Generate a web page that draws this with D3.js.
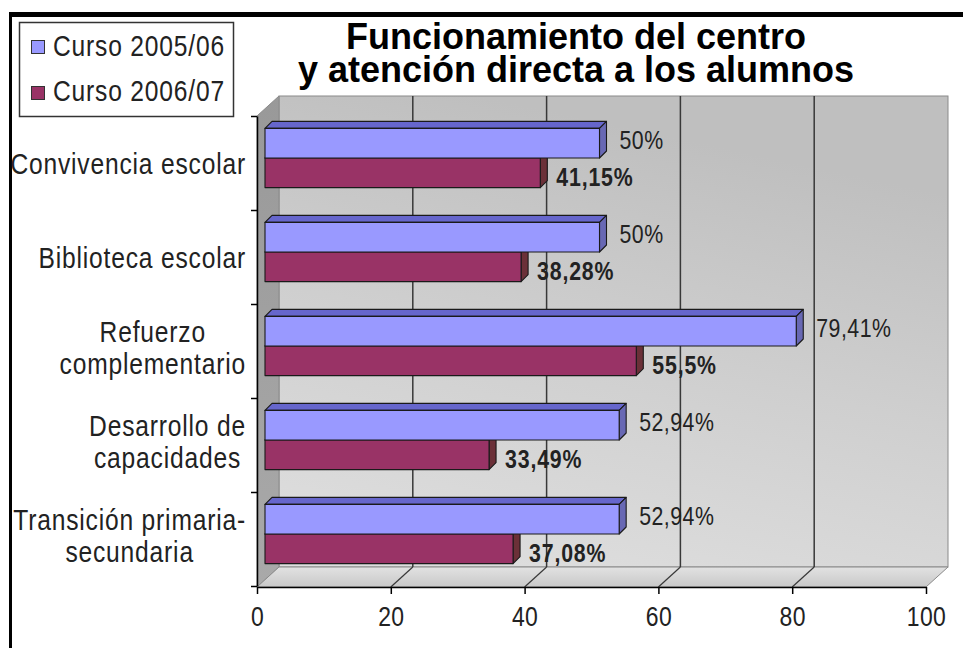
<!DOCTYPE html>
<html>
<head>
<meta charset="utf-8">
<script src="https://cdn.jsdelivr.net/npm/d3@7"></script>
<style>
  body { margin: 0; background: #fff; }
</style>
</head>
<body>
<div id="chart"></div>
<script>
const categories = ["Convivencia escolar", "Biblioteca escolar", "Refuerzo complementario", "Desarrollo de capacidades", "Transición primaria-secundaria"];
const categoryLines = [["Convivencia escolar"], ["Biblioteca escolar"], ["Refuerzo", "complementario"], ["Desarrollo de", "capacidades"], ["Transición primaria-", "secundaria"]];
const series = ["Curso 2005/06", "Curso 2006/07"];
const values0506 = [50, 50, 79.41, 52.94, 52.94];
const values0607 = [41.15, 38.28, 55.5, 33.49, 37.08];
const xTicks = [0, 20, 40, 60, 80, 100];
const titleLines = ["Funcionamiento del centro", "y atención directa a los alumnos"];

const width = 963, height = 648;
const sans = "'Liberation Sans', Arial, sans-serif";
const squeeze = 0.82; // no narrow font installed, so squeeze Liberation Sans

const plotTop = 116, floorY = 587;
const depth = { dx: 22, dy: -20 };   // back wall offset
const barOff = { dx: 8, dy: -5 };    // bar front face offset from axis plane
const barDepth = { dx: 7, dy: -7 };  // bar thickness

const colors = {
  "Curso 2005/06": { front: "#9999ff", top: "#6666cc", side: "#6868b4" },
  "Curso 2006/07": { front: "#993366", top: "#7a2850", side: "#6b3038" }
};

const esLocale = d3.formatLocale({ decimal: ",", thousands: ".", grouping: [3], currency: ["", " €"] });
const pct = v => esLocale.format(".2~f")(v) + "%";

const svg = d3.select("#chart")
  .append("svg")
  .attr("width", width)
  .attr("height", height)
  .attr("viewBox", [0, 0, width, height]);

// squeezed text helper
function narrowText(str, x, y, size, opts = {}) {
  let g = svg.append("g").attr("transform", `translate(${x},${y}) scale(${squeeze},1)`);
  return g.append("text")
    .text(str)
    .attr("font-family", sans)
    .attr("font-size", size)
    .attr("font-weight", opts.bold ? "bold" : null)
    .attr("letter-spacing", opts.spacing || 0)
    .attr("text-anchor", opts.anchor || "start")
    .attr("fill", "#222");
}

const defs = svg.append("defs");
let wallGrad = defs.append("linearGradient").attr("id", "wall")
  .attr("x1", 0.3).attr("y1", 0).attr("x2", 0).attr("y2", 1);
wallGrad.append("stop").attr("offset", "0%").attr("stop-color", "#bfbfbf");
wallGrad.append("stop").attr("offset", "45%").attr("stop-color", "#cfcfcf");
wallGrad.append("stop").attr("offset", "100%").attr("stop-color", "#e0e0e0");
let sideGrad = defs.append("linearGradient").attr("id", "side")
  .attr("x1", 0).attr("y1", 0).attr("x2", 0).attr("y2", 1);
sideGrad.append("stop").attr("offset", "0%").attr("stop-color", "#999999");
sideGrad.append("stop").attr("offset", "100%").attr("stop-color", "#a9a9a9");
let floorGrad = defs.append("linearGradient").attr("id", "floor")
  .attr("x1", 0).attr("y1", 0).attr("x2", 0).attr("y2", 1);
floorGrad.append("stop").attr("offset", "0%").attr("stop-color", "#e2e2e2");
floorGrad.append("stop").attr("offset", "100%").attr("stop-color", "#c8c8c8");

// frame
svg.append("rect").attr("x", 9).attr("y", 12).attr("width", width - 9).attr("height", 5).attr("fill", "#000");
svg.append("rect").attr("x", 9).attr("y", 12).attr("width", 3).attr("height", height - 12).attr("fill", "#000");

let x = d3.scaleLinear().domain([0, 100]).range([257, 926]);
let y = d3.scaleBand().domain(categories).range([plotTop, floorY - 1]).paddingInner(0.37).paddingOuter(0.185);
let sub = d3.scaleBand().domain(series).range([0, y.bandwidth()]);
let yEdge = d3.scaleLinear().domain([0, categories.length]).range([plotTop, floorY - 1]);

const pts = p => p.map(d => d.join(",")).join(" ");
const x0 = x(0), x1 = x(100);

// back wall, side wall, floor
svg.append("rect")
  .attr("x", x0 + depth.dx).attr("y", plotTop + depth.dy)
  .attr("width", x1 - x0).attr("height", floorY - plotTop)
  .attr("fill", "url(#wall)").attr("stroke", "#8a8a8a");
svg.append("polygon")
  .attr("points", pts([[x0, plotTop], [x0 + depth.dx, plotTop + depth.dy], [x0 + depth.dx, floorY + depth.dy], [x0, floorY]]))
  .attr("fill", "url(#side)").attr("stroke", "#8a8a8a");
svg.append("polygon")
  .attr("points", pts([[x0, floorY], [x0 + depth.dx, floorY + depth.dy], [x1 + depth.dx, floorY + depth.dy], [x1, floorY]]))
  .attr("fill", "url(#floor)").attr("stroke", "#8a8a8a");

// gridlines on wall and floor
for (let t of xTicks.slice(1, -1)) {
  svg.append("line")
    .attr("x1", x(t) + depth.dx).attr("x2", x(t) + depth.dx)
    .attr("y1", plotTop + depth.dy).attr("y2", floorY + depth.dy)
    .attr("stroke", "#383838").attr("stroke-width", 1.5);
  svg.append("line")
    .attr("x1", x(t) + depth.dx).attr("y1", floorY + depth.dy)
    .attr("x2", x(t)).attr("y2", floorY)
    .attr("stroke", "#383838").attr("stroke-width", 1.2);
}

// bars (2006/07 first so the 2005/06 bar above covers its top)
categories.forEach((c, i) => {
  let rows = [
    { s: series[1], v: values0607[i] },
    { s: series[0], v: values0506[i] }
  ];
  for (let r of rows) {
    let col = colors[r.s];
    let bx0 = x(0) + barOff.dx, bx1 = x(r.v) + barOff.dx;
    let by0 = y(c) + sub(r.s) + barOff.dy, by1 = by0 + sub.bandwidth();
    let g = svg.append("g").attr("stroke", "#1a1a1a").attr("stroke-width", 1.1).attr("stroke-linejoin", "round");
    g.append("polygon")
      .attr("points", pts([[bx0, by0], [bx0 + barDepth.dx, by0 + barDepth.dy], [bx1 + barDepth.dx, by0 + barDepth.dy], [bx1, by0]]))
      .attr("fill", col.top);
    g.append("polygon")
      .attr("points", pts([[bx1, by0], [bx1 + barDepth.dx, by0 + barDepth.dy], [bx1 + barDepth.dx, by1 + barDepth.dy], [bx1, by1]]))
      .attr("fill", col.side);
    g.append("rect")
      .attr("x", bx0).attr("y", by0)
      .attr("width", bx1 - bx0).attr("height", by1 - by0)
      .attr("fill", col.front);
  }
});

// value labels
categories.forEach((c, i) => {
  let cy0 = y(c) + sub(series[0]) + barOff.dy + sub.bandwidth() / 2;
  let cy1 = y(c) + sub(series[1]) + barOff.dy + sub.bandwidth() / 2;
  narrowText(pct(values0506[i]), x(values0506[i]) + barOff.dx + 20, cy0 - 3 + 9, 26, { spacing: 0.6 });
  narrowText(pct(values0607[i]), x(values0607[i]) + barOff.dx + 16, cy1 + 4 + 9, 26, { spacing: 1, bold: true });
});

// X axis
svg.append("g")
  .attr("transform", `translate(0,${floorY})`)
  .call(d3.axisBottom(x).tickValues(xTicks).tickSize(7).tickSizeOuter(0).tickPadding(12))
  .call(g => {
    g.select(".domain").attr("stroke", "#000").attr("stroke-width", 1.5);
    g.selectAll(".tick line").attr("stroke", "#000").attr("stroke-width", 1.5);
    g.selectAll(".tick text")
      .attr("font-family", sans).attr("font-size", 28).attr("letter-spacing", 0.5)
      .attr("transform", `scale(${squeeze},1)`)
      .attr("fill", "#222");
  });

// category axis (ticks at band edges)
svg.append("g")
  .attr("transform", `translate(${x0},0)`)
  .call(d3.axisLeft(yEdge).tickValues(d3.range(categories.length + 1)).tickSize(6).tickSizeOuter(0).tickFormat(""))
  .call(g => {
    g.select(".domain").attr("stroke", "#000").attr("stroke-width", 1.5);
    g.selectAll(".tick line").attr("stroke", "#000").attr("stroke-width", 1.5);
  });

// category labels, lines centred on each other, block right-aligned
categories.forEach((c, i) => {
  let lines = categoryLines[i];
  let center = (yEdge(i) + yEdge(i + 1)) / 2 - (lines.length > 1 ? 4 : 0);
  let t = narrowText("", 0, 0, 30, { spacing: 1, anchor: "middle" });
  lines.forEach((l, j) => {
    t.append("tspan").text(l)
      .attr("x", 0)
      .attr("y", center + 11 + (j - (lines.length - 1) / 2) * 32);
  });
  let maxW = d3.max(t.selectAll("tspan").nodes(), n => n.getComputedTextLength()) * squeeze;
  d3.select(t.node().parentNode).attr("transform", `translate(${246 - maxW / 2},0) scale(${squeeze},1)`);
});

// legend
svg.append("rect")
  .attr("x", 19.5).attr("y", 22.5).attr("width", 214).attr("height", 94)
  .attr("fill", "#fff").attr("stroke", "#333").attr("stroke-width", 1.5);
series.forEach((s, i) => {
  svg.append("rect")
    .attr("x", 31.5).attr("y", 40.5 + i * 46).attr("width", 13).attr("height", 13)
    .attr("fill", colors[s].front).attr("stroke", "#333");
  narrowText(s, 53, 56 + i * 45, 30, { spacing: 1 });
});

// title
titleLines.forEach((l, i) => {
  svg.append("text")
    .text(l)
    .attr("x", 576).attr("y", 49 + i * 33)
    .attr("text-anchor", "middle")
    .attr("font-family", sans).attr("font-weight", "bold").attr("font-size", 36)
    .attr("fill", "#000");
});
</script>
</body>
</html>
